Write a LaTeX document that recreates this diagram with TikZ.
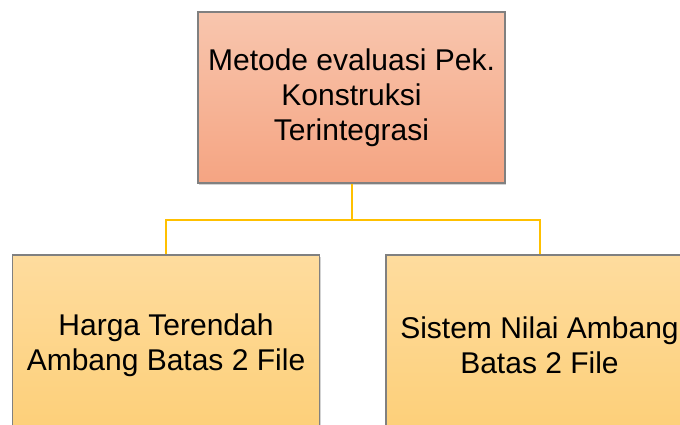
\documentclass[tikz,border=0pt]{standalone}
\usepackage{fontspec}
\setmainfont{Liberation Sans}
\usetikzlibrary{shadows}
\definecolor{topA}{HTML}{F8C6AE}
\definecolor{topB}{HTML}{F5A482}
\definecolor{botA}{HTML}{FEDC9E}
\definecolor{botB}{HTML}{FDCF78}
\definecolor{edge}{HTML}{808080}
\definecolor{gold}{HTML}{FFC000}
\tikzset{
  boxbase/.style={draw=edge, line width=1.2pt, rectangle, align=center,
    inner sep=0pt, minimum width=307pt,
    font=\fontsize{30}{35}\selectfont, text=black,
    drop shadow={shadow xshift=1pt, shadow yshift=-1.5pt, opacity=0.35}},
  topbox/.style={boxbase, minimum height=171pt, top color=topA, bottom color=topB},
  subbox/.style={boxbase, minimum height=180pt, top color=botA, bottom color=botB},
  link/.style={draw=gold, line width=2pt}
}
\begin{document}
\begin{tikzpicture}[x=1pt,y=-1pt]
\useasboundingbox (0,0) rectangle (680,424);
\clip (0,0) rectangle (680,424);
\node[topbox] (T) at (351.5,97.5) {Metode evaluasi Pek.\\Konstruksi\\Terintegrasi};
\node[subbox] (L) at (166,345) {Harga Terendah\\Ambang Batas 2 File};
\node[subbox] (R) at (539.5,345) {Sistem Nilai Ambang\\Batas 2 File};
\coordinate (J) at (351.5,220);
\draw[link] (T.south) -- (J);
\draw[link] (J) -| (L.north);
\draw[link] (J) -| (R.north);
\end{tikzpicture}
\end{document}
